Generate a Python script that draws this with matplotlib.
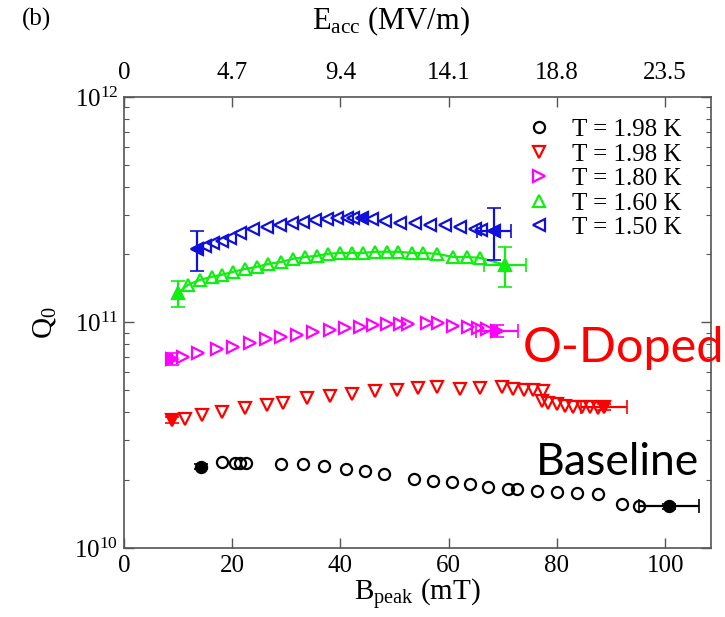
import matplotlib
matplotlib.use("Agg")
import matplotlib.pyplot as plt
from matplotlib.ticker import LogLocator, NullFormatter, FixedLocator

plt.rcParams['font.family'] = ['Liberation Serif', 'DejaVu Serif']
plt.rcParams['mathtext.fontset'] = 'custom'
plt.rcParams['mathtext.rm'] = 'Liberation Serif'

# ---- data (B_peak in mT, Q0) ----
base_x = [14.2, 18.2, 20.5, 21.4, 22.6, 29.1, 33.1, 37.0, 41.0, 44.6, 48.1, 53.6,
          57.1, 60.6, 64.0, 67.3, 71.0, 72.6, 76.3, 80.0, 83.7, 87.6, 92.0, 95.2, 100.7]
base_q = [2.29, 2.40, 2.38, 2.38, 2.38, 2.36, 2.36, 2.31, 2.24, 2.19, 2.13, 2.02,
          1.98, 1.96, 1.92, 1.87, 1.83, 1.83, 1.79, 1.77, 1.75, 1.74, 1.57, 1.53, 1.53]

red_x = [8.8, 11.3, 14.4, 18.1, 22.4, 26.4, 29.4, 33.8, 38.1, 42.1, 46.4, 50.4, 54.3,
         57.9, 62.1, 65.8, 69.8, 71.8, 73.9, 75.6, 77.4, 77.2, 78.4, 80.0, 81.5, 83.0,
         84.6, 86.1, 87.6, 88.7]
red_q = [3.70, 3.74, 3.89, 4.01, 4.18, 4.31, 4.40, 4.63, 4.72, 4.82, 4.97, 5.02, 5.13,
         5.18, 5.07, 5.13, 5.18, 5.07, 5.02, 5.02, 4.97, 4.49, 4.40, 4.36, 4.27, 4.22,
         4.22, 4.22, 4.18, 4.22]

mag_x = [8.8, 10.9, 13.7, 17.1, 20.1, 23.3, 26.2, 29.1, 31.9, 35.0, 38.1, 40.9, 43.6,
         46.0, 48.6, 51.0, 52.5, 56.0, 58.0, 60.8, 63.6, 65.4, 67.1, 68.9]
mag_q = [6.89, 7.03, 7.33, 7.62, 7.78, 8.11, 8.45, 8.63, 8.81, 9.08, 9.27, 9.46, 9.55,
         9.75, 9.84, 9.84, 9.84, 9.95, 9.95, 9.64, 9.55, 9.46, 9.35, 9.16]

grn_x = [10.0, 11.8, 14.0, 16.2, 18.1, 20.1, 22.4, 24.5, 26.6, 29.1, 31.2, 33.5, 35.6,
         37.7, 39.9, 42.1, 44.2, 46.4, 48.6, 50.6, 53.2, 55.3, 57.8, 60.8, 63.4, 65.8, 70.4]
grn_q = [1.352, 1.466, 1.542, 1.592, 1.626, 1.675, 1.726, 1.762, 1.816, 1.854, 1.914,
         1.950, 1.972, 2.014, 2.032, 2.032, 2.032, 2.056, 2.056, 2.056, 2.032, 2.032,
         2.014, 1.950, 1.950, 1.932, 1.799]

blu_x = [13.4, 15.0, 16.5, 18.1, 19.6, 21.4, 23.8, 26.4, 28.8, 31.0, 33.1, 35.3, 37.5,
         39.3, 41.2, 42.3, 43.9, 45.8, 48.2, 51.0, 53.8, 56.6, 59.3, 62.1, 64.9, 66.0, 68.4]
blu_q = [2.12, 2.18, 2.25, 2.30, 2.37, 2.49, 2.60, 2.65, 2.70, 2.76, 2.79, 2.85, 2.88,
         2.90, 2.90, 2.90, 2.90, 2.88, 2.82, 2.76, 2.76, 2.70, 2.70, 2.65, 2.60, 2.57, 2.55]

# scale factors for each set
base_q = [v * 1e10 for v in base_q]
red_q = [v * 1e10 for v in red_q]
mag_q = [v * 1e10 for v in mag_q]
grn_q = [v * 1e11 for v in grn_q]
blu_q = [v * 1e11 for v in blu_q]

# points drawn filled with error bars: (x, q, xerr, qerr)
base_err = [(14.2, 2.29e10, 0.0, 0.06e10), (100.7, 1.53e10, 5.5, 0.04e10)]
red_err = [(8.8, 3.70e10, 0.0, 0.11e10), (88.7, 4.22e10, 4.2, 0.13e10)]
mag_err = [(8.8, 6.89e10, 0.0, 0.43e10), (68.9, 9.16e10, 3.9, 0.57e10)]
grn_err = [(10.0, 1.352e11, 0.0, 0.18e11), (70.4, 1.799e11, 3.8, 0.36e11)]
blu_err = [(13.4, 2.12e11, 0.0, 0.43e11), (43.9, 2.90e11, 0.0, 0.0),
           (68.4, 2.55e11, 3.1, 0.65e11)]

labels = ['T = 1.98 K', 'T = 1.98 K', 'T = 1.80 K', 'T = 1.60 K', 'T = 1.50 K']
top_ticks = [0, 20, 40, 60, 80, 100]
top_labels = ['0', '4.7', '9.4', '14.1', '18.8', '23.5']

fig = plt.figure(figsize=(7.25, 6.17), dpi=100)
ax = fig.add_axes([0.171, 0.112, 0.81, 0.731])

series = [
    (base_x, base_q, base_err, 'o', 'black', 8, False, labels[0]),
    (red_x, red_q, red_err, 'v', 'red', 9, False, labels[1]),
    (mag_x, mag_q, mag_err, '>', 'magenta', 9, False, labels[2]),
    (grn_x, grn_q, grn_err, '^', '#11ee11', 9, True, labels[3]),
    (blu_x, blu_q, blu_err, '<', '#1010dd', 9, False, labels[4]),
]

for xs, qs, errs, mk, col, ms, with_line, lab in series:
    if with_line:
        ax.plot(xs, qs, '-', color=col, linewidth=1.6)
    ax.plot(xs, qs, linestyle='none', marker=mk, color=col,
            markerfacecolor='none', markeredgewidth=1.6, markersize=ms, label=lab)
    for ex, eq, exe, eqe in errs:
        ax.errorbar(ex, eq, xerr=exe if exe else None, yerr=eqe if eqe else None,
                    fmt=mk, color=col, markersize=ms - 1, markerfacecolor=col,
                    markeredgewidth=1.2, elinewidth=1.6, capsize=5, capthick=1.6)

ax.set_yscale('log')
ax.set_xlim(0, 108.5)
ax.set_ylim(1e10, 1e12)
ax.set_xticks([0, 20, 40, 60, 80, 100])
ax.yaxis.set_major_locator(LogLocator(base=10, numticks=5))
ax.yaxis.set_minor_locator(LogLocator(base=10, subs=range(2, 10), numticks=20))
ax.yaxis.set_minor_formatter(NullFormatter())
ax.tick_params(which='major', direction='in', length=7, width=1.0, labelsize=18,
               right=True, color='#555555')
ax.tick_params(which='minor', direction='in', length=3.5, width=0.8, right=True,
               color='#555555')
ax.tick_params(axis='x', top=False, pad=5)
ax.tick_params(axis='y', pad=4)
for sp in ax.spines.values():
    sp.set_color('#555555')
    sp.set_linewidth(1.2)

ax.set_xlabel(r'$\mathregular{B_{peak}}$ (mT)', fontsize=21, labelpad=0)
ax.set_ylabel(r'$\mathregular{Q_0}$', fontsize=21, labelpad=12)

top = ax.twiny()
top.set_xlim(ax.get_xlim())
top.xaxis.set_major_locator(FixedLocator(top_ticks))
top.set_xticklabels(top_labels)
top.tick_params(direction='in', length=7, width=1.0, labelsize=18, pad=9,
                color='#555555')
for sp in top.spines.values():
    sp.set_visible(False)
top.set_xlabel(r'$\mathregular{E_{acc}}$ (MV/m)', fontsize=22, labelpad=16)
top.xaxis.set_label_coords(0.455, 1.15)

fig.text(0.03, 0.968, '(b)', fontsize=18, va='center')

ax.legend(loc='upper right', bbox_to_anchor=(0.975, 0.985), frameon=False,
          fontsize=18, handletextpad=0.8, labelspacing=0.08, handlelength=1.0,
          borderaxespad=0.2)

ax.text(0.851, 0.443, 'O-Doped', transform=ax.transAxes, color='red', fontsize=35,
        family='Lato', ha='center', va='center', clip_on=False)
ax.text(0.84, 0.19, 'Baseline', transform=ax.transAxes, color='black', fontsize=32,
        family='Lato', ha='center', va='center', clip_on=False)

fig.savefig('out.png', dpi=100)
